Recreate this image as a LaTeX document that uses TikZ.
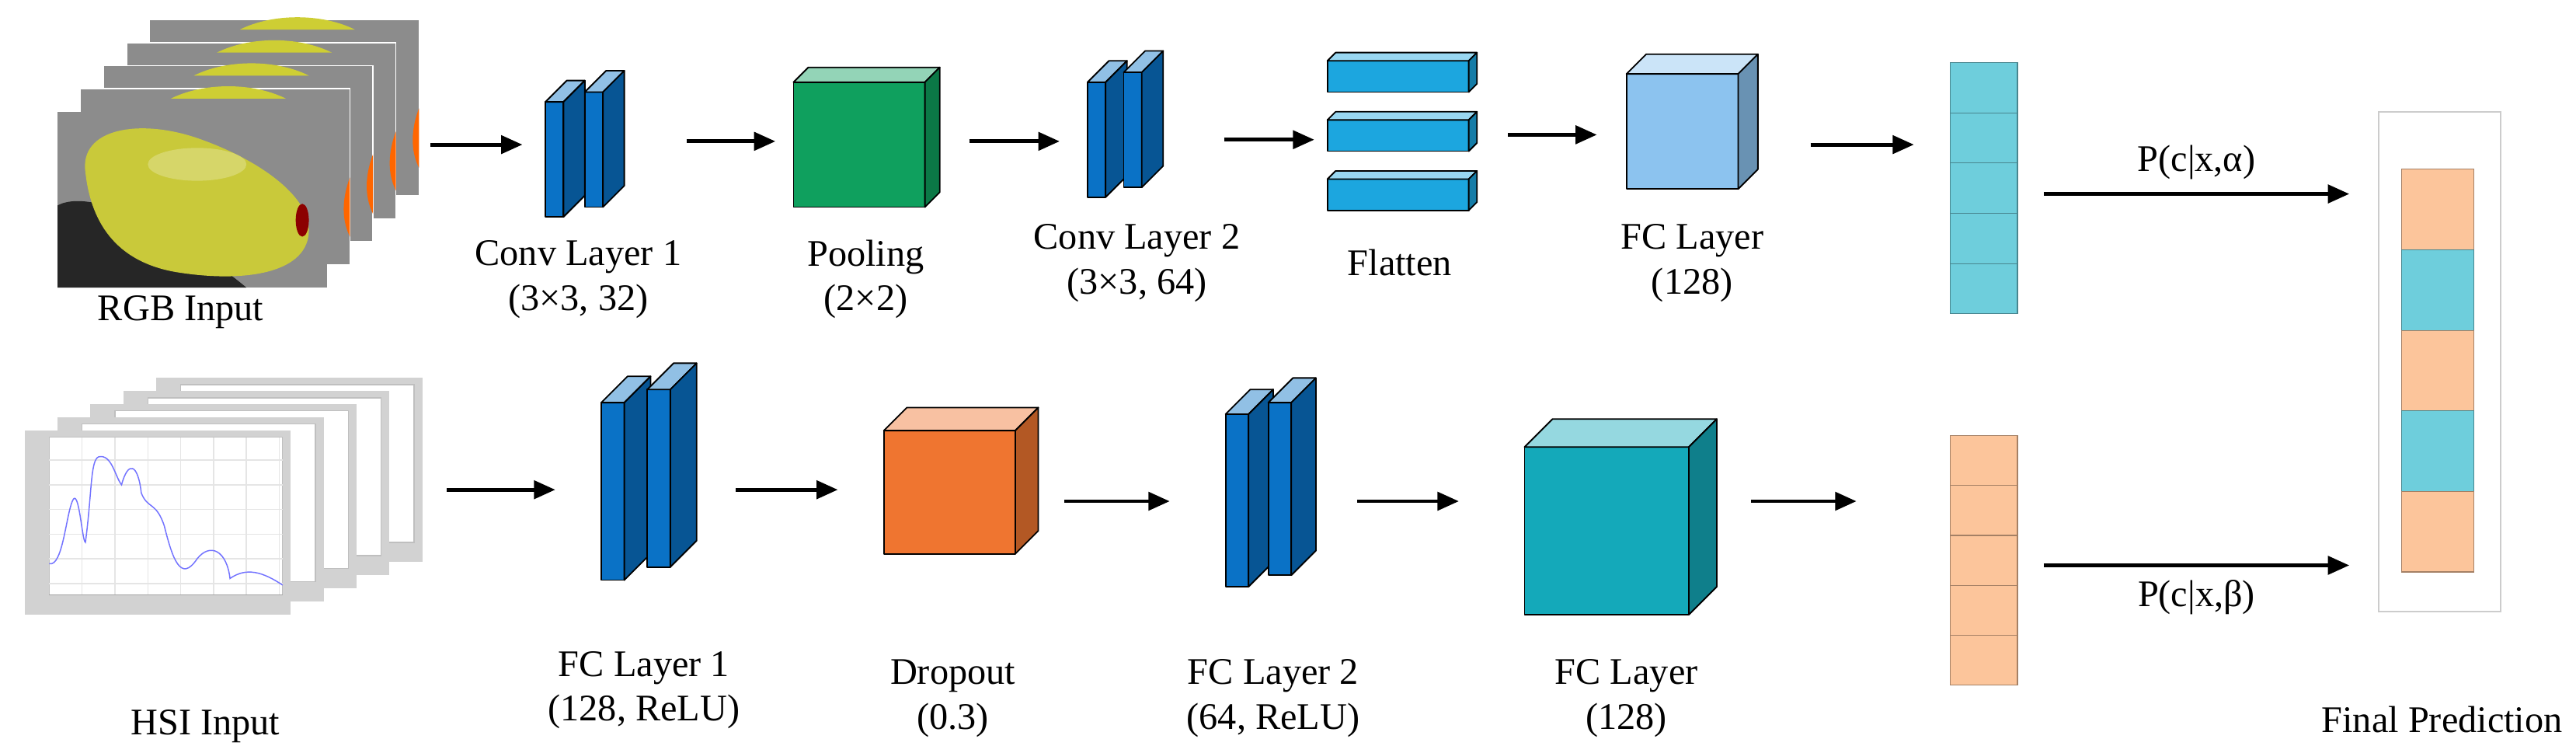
\documentclass[tikz,border=0pt]{standalone}
\usepackage{fontspec}
\setmainfont{Liberation Serif}
\usetikzlibrary{arrows.meta}
\begin{document}
\begin{tikzpicture}[x=0.2mm,y=-0.2mm,
  arr/.style={-{Triangle[length=2.6mm,width=2.2mm]},line width=1.3pt},
  lbl/.style={font=\fontsize{13}{15.5}\selectfont,align=center},
  edge/.style={draw=black,line width=0.5pt,line join=round}]
\newcommand\drawcube[6]{%
  \fill[#6,edge] (#1,#2) rectangle ++(#3,#4);
  \fill[#6!45!white,edge] (#1,#2)--++(#5,-#5)--++(#3,0)--++(-#5,#5)--cycle;
  \fill[#6!75!black,edge] (#1+#3,#2)--++(#5,-#5)--++(0,#4)--++(-#5,#5)--cycle;}
\definecolor{slab}{HTML}{0A72C6}
\definecolor{pool}{HTML}{0FA05E}
\definecolor{flat}{HTML}{1CA6DF}
\definecolor{fcb}{HTML}{8CC3EF}
\definecolor{drop}{HTML}{EF7530}
\definecolor{teal2}{HTML}{14A9BA}
\definecolor{cyanv}{HTML}{6ECEDC}
\definecolor{orgv}{HTML}{FCC59B}
\definecolor{pear}{HTML}{C9C93A}
\definecolor{bg}{HTML}{8C8C8C}
\useasboundingbox (0,0) rectangle (1568,458);
% ---------- RGB stack
\foreach \i in {4,3,2,1} {
  \fill[bg,draw=white,line width=0.4pt] (35+14*\i,68-14*\i) rectangle ++(164,107);
  \fill[pear!90!yellow] (90+14*\i,74-14*\i) .. controls (110+14*\i,64-14*\i) and (140+14*\i,64-14*\i) .. (160+14*\i,74-14*\i) -- cycle;
  \fill[orange!80!red] (199+14*\i,122-14*\i) .. controls (193+14*\i,138-14*\i) and (195+14*\i,150-14*\i) .. (199+14*\i,158-14*\i) -- cycle;
}
\fill[bg] (35,68) rectangle (199,175);
\fill[black!85] (35,125) .. controls (60,112) and (120,150) .. (150,175) -- (35,175) -- cycle;
\fill[pear] (52,105) .. controls (48,78) and (85,72) .. (120,84)
  .. controls (155,96) and (188,118) .. (188,140)
  .. controls (188,166) and (150,172) .. (110,166)
  .. controls (68,160) and (55,132) .. (52,105) -- cycle;
\fill[pear!60!white,opacity=0.6] (120,100) ellipse (30 and 10);
\fill[red!55!black] (184,134) ellipse (4 and 10);
\node[lbl] (rgb) at (110,190) {RGB Input};
% ---------- HSI stack
\foreach \i in {4,3,2,1,0} {
  \fill[gray!35] (15+20*\i,262-8*\i) rectangle ++(162,112);
  \fill[white,draw=gray!50] (30+20*\i,266-8*\i) rectangle ++(142,96);
}
\foreach \gx in {50,70,...,170} \draw[gray!20] (\gx,266) -- (\gx,362);
\foreach \gy in {280,295,...,355} \draw[gray!20] (30,\gy) -- (172,\gy);
\draw[gray!70] (30,362) -- (172,362);
\draw[blue!55,line width=0.4pt] (30,343) .. controls (38,345) and (40,315) .. (44,305) .. controls (48,295) and (50,330) .. (52,330)
  .. controls (56,300) and (55,280) .. (60,278) .. controls (68,276) and (70,290) .. (74,295) .. controls (78,280) and (84,282) .. (86,300)
  .. controls (90,310) and (95,305) .. (100,320) .. controls (105,340) and (110,355) .. (120,340)
  .. controls (128,330) and (138,335) .. (140,352) .. controls (150,345) and (160,348) .. (172,356);
\node[lbl] (hsi) at (125,442) {HSI Input};
% ---------- top row
\coordinate (a1s) at (262,88); \coordinate (a1e) at (318,88);
\draw[arr] (a1s) -- (a1e);
\drawcube{332}{62}{11}{70}{13}{slab}
\drawcube{356}{56}{11}{70}{13}{slab}
\node[lbl] (c1) at (352,170) {Conv Layer 1\\(3×3, 32)};
\coordinate (a2s) at (418,86); \coordinate (a2e) at (472,86);
\draw[arr] (a2s) -- (a2e);
\drawcube{483}{50}{80}{76}{9}{pool}
\node[lbl] (pl) at (527,170) {Pooling\\(2×2)};
\coordinate (a3s) at (590,86); \coordinate (a3e) at (645,86);
\draw[arr] (a3s) -- (a3e);
\drawcube{662}{50}{11}{70}{13}{slab}
\drawcube{684}{44}{11}{70}{13}{slab}
\node[lbl] (c2) at (692,160) {Conv Layer 2\\(3×3, 64)};
\coordinate (a4s) at (745,85); \coordinate (a4e) at (800,85);
\draw[arr] (a4s) -- (a4e);
\drawcube{808}{37}{86}{19}{5}{flat}
\drawcube{808}{73}{86}{19}{5}{flat}
\drawcube{808}{109}{86}{19}{5}{flat}
\node[lbl] (fl) at (852,160) {Flatten};
\coordinate (a5s) at (918,82); \coordinate (a5e) at (972,82);
\draw[arr] (a5s) -- (a5e);
\drawcube{990}{45}{68}{70}{12}{fcb}
\node[lbl] (fc) at (1030,160) {FC Layer\\(128)};
\coordinate (a6s) at (1102,88); \coordinate (a6e) at (1165,88);
\draw[arr] (a6s) -- (a6e);
\foreach \k in {0,...,4} \draw[fill=cyanv,draw=cyanv!65!black,line width=0.3pt] (1187,38+30.6*\k) rectangle ++(41,30.6);
\coordinate (pas) at (1244,118); \coordinate (pae) at (1430,118);
\draw[arr] (pas) -- node[lbl,above=1pt] {P(c|x,α)} (pae);
% ---------- bottom row
\coordinate (b1s) at (272,298); \coordinate (b1e) at (338,298);
\draw[arr] (b1s) -- (b1e);
\drawcube{366}{245}{14}{108}{16}{slab}
\drawcube{394}{237}{14}{108}{16}{slab}
\node[lbl] (f1) at (392,420) {FC Layer 1\\(128, ReLU)};
\coordinate (b2s) at (448,298); \coordinate (b2e) at (510,298);
\draw[arr] (b2s) -- (b2e);
\drawcube{538}{262}{80}{75}{14}{drop}
\node[lbl] (dr) at (580,425) {Dropout\\(0.3)};
\coordinate (b3s) at (648,305); \coordinate (b3e) at (712,305);
\draw[arr] (b3s) -- (b3e);
\drawcube{746}{252}{14}{105}{15}{slab}
\drawcube{772}{245}{14}{105}{15}{slab}
\node[lbl] (f2) at (775,425) {FC Layer 2\\(64, ReLU)};
\coordinate (b4s) at (826,305); \coordinate (b4e) at (888,305);
\draw[arr] (b4s) -- (b4e);
\drawcube{928}{272}{100}{102}{17}{teal2}
\node[lbl] (fcb) at (990,425) {FC Layer\\(128)};
\coordinate (b5s) at (1066,305); \coordinate (b5e) at (1130,305);
\draw[arr] (b5s) -- (b5e);
\foreach \k in {0,...,4} \draw[fill=orgv,draw=orgv!65!black,line width=0.3pt] (1187,265+30.4*\k) rectangle ++(41,30.4);
\coordinate (pbs) at (1244,344); \coordinate (pbe) at (1430,344);
\draw[arr] (pbs) -- node[lbl,below=1pt] {P(c|x,β)} (pbe);
% ---------- final
\draw[gray!40,line width=0.5pt] (1448,68) rectangle (1522,372);
\foreach \k/\c in {0/orgv,1/cyanv,2/orgv,3/cyanv,4/orgv}
  \draw[fill=\c,draw=\c!65!black,line width=0.3pt] (1462,103+49*\k) rectangle ++(44,49);
\node[lbl,anchor=east] (fp) at (1566,438) {Final Prediction};
\end{tikzpicture}
\end{document}
